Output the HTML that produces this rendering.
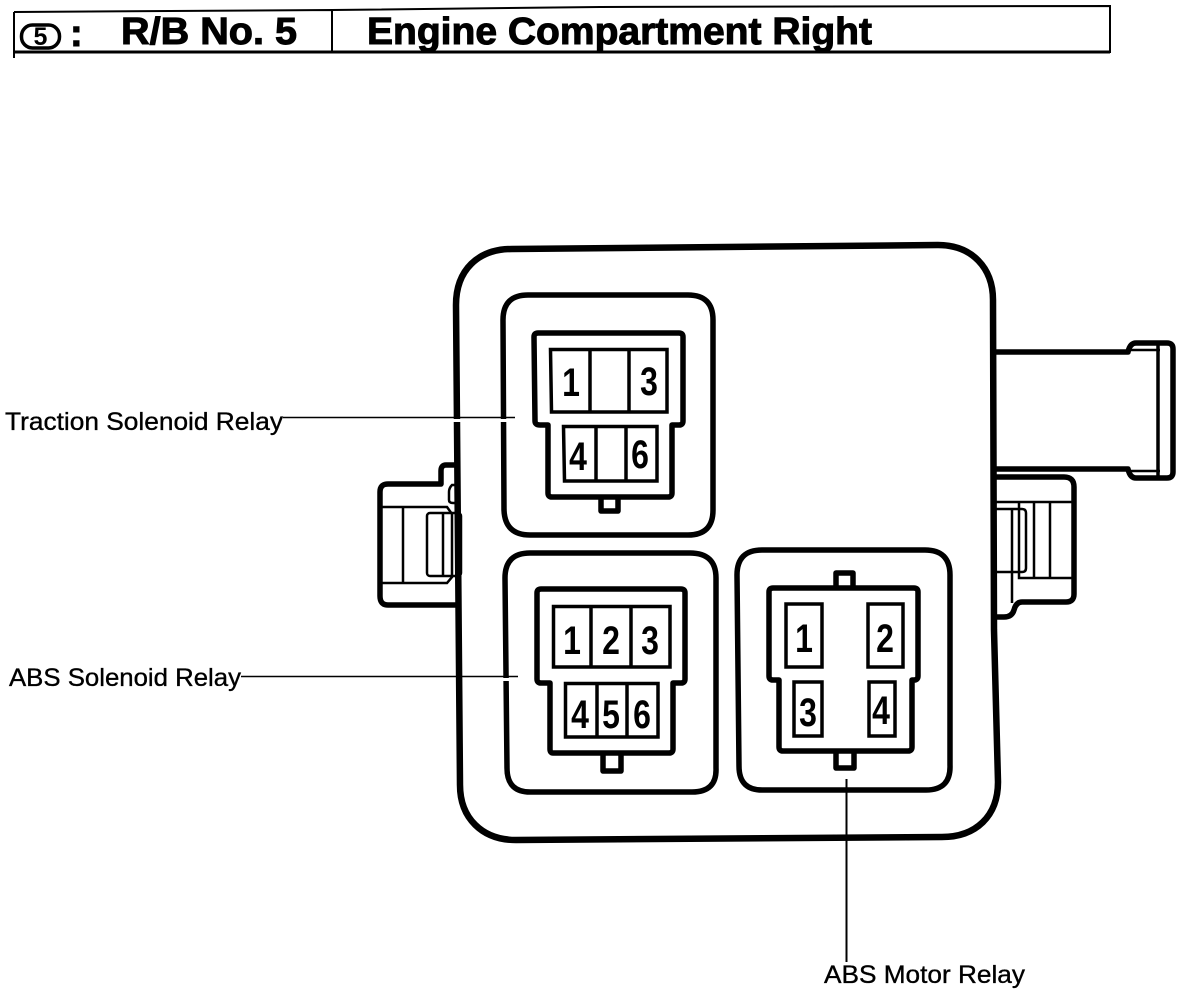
<!DOCTYPE html>
<html><head><meta charset="utf-8"><title>R/B No. 5</title>
<style>
html,body{margin:0;padding:0;background:#fff}
svg{display:block}
text{font-family:"Liberation Sans",sans-serif;fill:#000}
.l{font-size:25px;stroke:#000;stroke-width:.35}
.t{font-size:38px;font-weight:bold;stroke:#000;stroke-width:1}
.d{font-size:40px;font-weight:bold;text-anchor:middle}
.o{fill:none;stroke:#000;stroke-width:5.500;stroke-linejoin:round}
.m{fill:none;stroke:#000;stroke-width:6.500}
.c{fill:none;stroke:#000;stroke-width:3.500}
.n{fill:none;stroke:#000;stroke-width:2.500}
</style></head><body>
<svg xmlns="http://www.w3.org/2000/svg" width="1184" height="992" viewBox="0 0 1184 992">
<!-- Title -->
<path d="M14 58V12M14 12L332 10L600 7L1110 6V52H14M332 10V52" fill="none" stroke="#000" stroke-width="2"/>
<path d="M14 52H1110" stroke="#000" stroke-width="3"/>
<rect x="21.500" y="25" width="38" height="23" rx="11" class="c"/>
<text x="40.500" y="45" font-size="25" font-weight="bold" text-anchor="middle">5</text>
<text x="70" y="46" class="t">:</text>
<text x="121" y="44" class="t" textLength="176" lengthAdjust="spacingAndGlyphs">R/B No. 5</text>
<text x="367" y="44" class="t" textLength="505" lengthAdjust="spacingAndGlyphs">Engine Compartment Right</text>

<!-- Side connectors -->
<path class="o" d="M457 465H446Q441 465 441 471V484Q441 484 436 484H388Q380 484 380 492V596Q380 605 388 605H457"/>
<path class="n" d="M381 507H447L452 514V577L447 583H381M403 507V583"/>
<rect x="427" y="513" width="34" height="63" rx="3" class="n"/>
<path class="n" d="M443 513V576M457 485H452Q449 488 449 492V500Q449 503 453 503H457"/>

<path class="o" d="M993 352H1128Q1130 343 1136 343H1167Q1173 343 1173 349V472Q1173 478 1167 478H1136Q1130 478 1128 469H993"/>
<path class="n" d="M1131 350H1160M1131 471H1160"/>
<path class="c" d="M1158 345V476"/>
<path class="o" d="M996 477H1064Q1074 477 1074 487V594Q1074 602 1066 602H1022Q1016 602 1014 610Q1012 617 1004 617H996"/>
<path class="n" d="M996 502H1072M1019 502V578H1072M1034 502V578M1050 502V578M1012 509V603M996 572H1022Q1026 572 1026 568V513Q1026 509 1022 509H996"/>

<!-- Main body -->
<path class="m" d="M456 305C456 270 478 249 512 249L938 245C972 245 993 268 993 300L994 630L998 782C998 816 976 837 942 837L516 840C482 840 460 818 460 785Z"/>

<!-- Relay box 1 -->
<path class="o" d="M503 320Q503 295 528 295H688Q713 295 713 320V510Q713 535 688 535H530Q505 535 504 510Z"/>
<path class="o" d="M534 337Q534 333 538 333H679Q683 333 683 337V421Q683 425 679 425H672V493Q672 497 668 497H552Q548 497 548 493V425H540Q535 425 535 421Z"/>
<path class="o" stroke-width="4" d="M601 497V511H618V497"/>
<path class="c" d="M550.500 349.500H667V412H551.500ZM590 349V412M629 349V412"/>
<path class="c" d="M563.500 426.500H657V481H564.500ZM596 426V481M626 426V481"/>

<!-- Relay box 2 -->
<path class="o" d="M505 578Q505 553 530 553H690Q716 553 716 578V768Q717 792 692 792H532Q507 793 507 768Z"/>
<path class="o" d="M537 593Q537 589 541 589H681Q685 589 685 593V679Q685 683 681 683H673V749Q673 753 669 753H553Q550 753 550 749V683H541Q537 683 537 679Z"/>
<path class="o" stroke-width="4" d="M603 753V771H621V753"/>
<path class="c" d="M553.500 606.500H670V667H553.500ZM591 606V668M631 606V668"/>
<path class="c" d="M565.500 683.500H658V737H565.500ZM597 683V737M627 683V737"/>

<!-- Relay box 3 -->
<path class="o" d="M737 575Q737 550 762 550H925Q950 550 950 575V765Q951 790 926 790H764Q739 791 739 766Z"/>
<path class="o" d="M769 592Q769 588 773 588H914Q918 588 918 592V676Q918 680 914 680H912V747Q912 751 908 751H783Q779 751 779 747V680H773Q769 680 769 676Z"/>
<path class="o" stroke-width="4" d="M836 587V573H853V587M836 752V768H854V752"/>
<rect x="786" y="604" width="36" height="63" class="c"/>
<rect x="868" y="604" width="35" height="63" class="c"/>
<rect x="794" y="682" width="28" height="54" class="c"/>
<rect x="869" y="682" width="26" height="54" class="c"/>

<!-- Digits -->
<g>
<text class="d" transform="translate(571 396) scale(.8 1)">1</text>
<text class="d" transform="translate(649 395) scale(.8 1)">3</text>
<text class="d" transform="translate(578 470) scale(.8 1)">4</text>
<text class="d" transform="translate(640 468) scale(.8 1)">6</text>
<text class="d" transform="translate(572 654) scale(.8 1)">1</text>
<text class="d" transform="translate(611 654) scale(.8 1)">2</text>
<text class="d" transform="translate(650 654) scale(.8 1)">3</text>
<text class="d" transform="translate(580 728) scale(.8 1)">4</text>
<text class="d" transform="translate(611 728) scale(.8 1)">5</text>
<text class="d" transform="translate(642 728) scale(.8 1)">6</text>
<text class="d" transform="translate(804 652) scale(.8 1)">1</text>
<text class="d" transform="translate(885 652) scale(.8 1)">2</text>
<text class="d" transform="translate(808 726) scale(.8 1)">3</text>
<text class="d" transform="translate(881 724) scale(.8 1)">4</text>
</g>

<!-- Leader lines with gaps -->
<path d="M450 420.500H462M498 420.500H510M500 679.500H512" stroke="#fff" stroke-width="3"/>
<path d="M283 417.500H515M241 676.500H518" stroke="#000" stroke-width="1.500"/>
<path d="M846.500 779V962" stroke="#000" stroke-width="2"/>

<!-- Labels -->
<text x="5" y="430" class="l" textLength="278" lengthAdjust="spacingAndGlyphs">Traction Solenoid Relay</text>
<text x="9" y="686" class="l" textLength="232" lengthAdjust="spacingAndGlyphs">ABS Solenoid Relay</text>
<text x="824" y="983" class="l" textLength="201" lengthAdjust="spacingAndGlyphs">ABS Motor Relay</text>
</svg>
</body></html>
